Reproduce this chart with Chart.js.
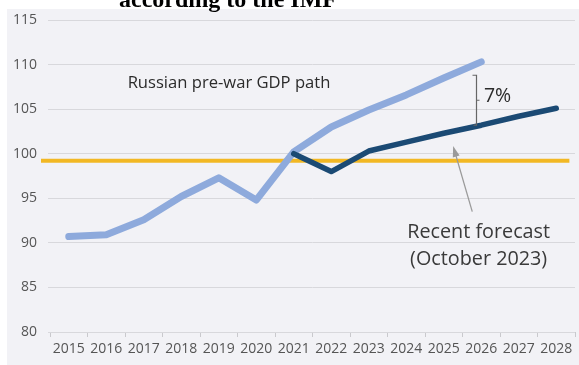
<!DOCTYPE html>
<html>
<head>
<meta charset="utf-8">
<script src="https://cdn.jsdelivr.net/npm/chart.js@4.4.1/dist/chart.umd.min.js"></script>
<style>
  html, body { margin: 0; padding: 0; background: #fff; }
  #gdpChart { display: block; }
</style>
</head>
<body>
<canvas id="gdpChart" width="579" height="365"></canvas>
<script>
const years = [2015, 2016, 2017, 2018, 2019, 2020, 2021, 2022, 2023, 2024, 2025, 2026, 2027, 2028]
const prewarYears = [2015, 2016, 2017, 2018, 2019, 2020, 2021, 2022, 2023, 2024, 2025, 2026]
const prewarPath = [90.7, 90.9, 92.6, 95.2, 97.3, 94.8, 100.2, 103.0, 104.9, 106.6, 108.5, 110.3]
const forecastYears = [2021, 2022, 2023, 2024, 2025, 2026, 2027, 2028]
const recentForecast = [100.0, 98.0, 100.3, 101.3, 102.3, 103.2, 104.2, 105.1]
const refLevel = 99.2
const refSpan = [2014.26, 2028.35]
const yTicks = [80, 85, 90, 95, 100, 105, 110, 115]

const titleText = 'according to the IMF'
const prewarLabel = 'Russian pre-war GDP path'
const forecastLabel = ['Recent forecast', '(October 2023)']
const gapLabel = '7%'

const font = '"Open Sans", "Noto Sans", sans-serif'

function pts(xs, ys) {
    return xs.map((x, i) => ({ x: x, y: ys[i] }))
}

// grey panel behind the plot plus the clipped heading above it
const background = {
    id: 'background',
    beforeDraw(chart) {
        const c = chart.ctx
        c.save()
        c.fillStyle = '#f2f2f6'
        c.fillRect(7, 9, chart.width - 7, chart.height - 9)
        c.fillStyle = '#000'
        c.font = 'bold 24px "Liberation Serif", serif'
        c.textAlign = 'center'
        c.textBaseline = 'alphabetic'
        c.fillText(titleText, 228, 7)
        c.restore()
    }
}

// text labels, the 7% bracket and the forecast arrow
const notes = {
    id: 'notes',
    afterDatasetsDraw(chart) {
        const c = chart.ctx
        const x = chart.scales.x, y = chart.scales.y
        c.save()

        c.fillStyle = '#2b2b2b'
        c.font = '16.6px ' + font
        c.textAlign = 'left'
        c.textBaseline = 'alphabetic'
        c.fillText(prewarLabel, x.getPixelForValue(2016.57), y.getPixelForValue(107.34))

        // bracket between the two paths
        const bx = Math.round(x.getPixelForValue(2025.85)) + 0.5
        const top = y.getPixelForValue(108.8)
        const bot = y.getPixelForValue(103.2)
        const mid = (top + bot) / 2
        c.strokeStyle = '#666'
        c.lineWidth = 1.2
        c.beginPath()
        c.moveTo(bx - 4, top)
        c.lineTo(bx, top)
        c.lineTo(bx, bot)
        c.lineTo(bx - 3, bot)
        c.moveTo(bx, mid)
        c.lineTo(bx + 3, mid)
        c.stroke()

        c.fillStyle = '#2b2b2b'
        c.font = '19.5px ' + font
        c.fillText(gapLabel, x.getPixelForValue(2026.07), y.getPixelForValue(105.8))

        // arrow pointing at the forecast line
        const x0 = x.getPixelForValue(2025.76), y0 = y.getPixelForValue(93.5)
        const x1 = x.getPixelForValue(2025.25), y1 = y.getPixelForValue(100.87)
        const ang = Math.atan2(y1 - y0, x1 - x0)
        c.strokeStyle = '#9a9a9a'
        c.fillStyle = '#9a9a9a'
        c.lineWidth = 1.3
        c.beginPath()
        c.moveTo(x0, y0)
        c.lineTo(x1 - 8 * Math.cos(ang), y1 - 8 * Math.sin(ang))
        c.stroke()
        c.beginPath()
        c.moveTo(x1, y1)
        c.lineTo(x1 - 11 * Math.cos(ang) + 3.5 * Math.sin(ang), y1 - 11 * Math.sin(ang) - 3.5 * Math.cos(ang))
        c.lineTo(x1 - 11 * Math.cos(ang) - 3.5 * Math.sin(ang), y1 - 11 * Math.sin(ang) + 3.5 * Math.cos(ang))
        c.closePath()
        c.fill()

        c.fillStyle = '#3a3a3a'
        c.font = '19.8px ' + font
        c.textAlign = 'center'
        const fx = x.getPixelForValue(2025.93)
        const fy = y.getPixelForValue(90.54)
        c.fillText(forecastLabel[0], fx, fy)
        c.fillText(forecastLabel[1], fx, fy + 27)
        c.restore()
    }
}

const ctx = document.getElementById('gdpChart')
const gdpChart = new Chart(ctx, {
    type: 'line',
    data: {
        datasets: [{
            label: 'recent forecast',
            data: pts(forecastYears, recentForecast),
            borderColor: '#1b4a74',
            borderWidth: 5.5,
            order: 1
        },
        {
            label: 'pre-war path',
            data: pts(prewarYears, prewarPath),
            borderColor: '#8eaadc',
            borderWidth: 7,
            order: 2
        },
        {
            label: 'reference',
            data: pts(refSpan, [refLevel, refLevel]),
            borderColor: '#f2b824',
            borderWidth: 4,
            borderCapStyle: 'butt',
            clip: false,
            order: 3
        }]
    },
    options: {
        responsive: false,
        animation: false,
        devicePixelRatio: 1,
        layout: { padding: { top: 20, right: 0, left: 0, bottom: 0 } },
        elements: {
            point: { radius: 0 },
            line: { tension: 0, borderCapStyle: 'round', borderJoinStyle: 'round' }
        },
        plugins: {
            legend: { display: false },
            tooltip: { enabled: false }
        },
        scales: {
            x: {
                type: 'linear',
                min: 2014.5,
                max: 2028.5,
                afterBuildTicks: (scale) => {
                    const t = []
                    years.forEach(yr => { t.push({ value: yr - 0.5 }); t.push({ value: yr }) })
                    t.push({ value: years[years.length - 1] + 0.5 })
                    scale.ticks = t
                },
                afterFit: (scale) => { scale.height = 33 },
                border: { display: false },
                grid: {
                    drawOnChartArea: false,
                    tickLength: 5,
                    tickColor: (c) => Number.isInteger(c.tick.value) ? 'rgba(0,0,0,0)' : '#c9c9cd'
                },
                ticks: {
                    autoSkip: false,
                    maxRotation: 0,
                    padding: 4,
                    color: '#555',
                    font: { family: font, size: 14 },
                    callback: (v) => years.includes(v) ? String(v) : ''
                }
            },
            y: {
                min: yTicks[0],
                max: yTicks[yTicks.length - 1],
                afterBuildTicks: (scale) => { scale.ticks = yTicks.map(v => ({ value: v })) },
                afterFit: (scale) => { scale.width = 50 },
                border: { display: false },
                grid: {
                    color: '#d8d8dc',
                    tickLength: 2
                },
                ticks: {
                    padding: 11,
                    color: '#555',
                    font: { family: font, size: 14 }
                }
            }
        }
    },
    plugins: [background, notes]
})
</script>
</body>
</html>
